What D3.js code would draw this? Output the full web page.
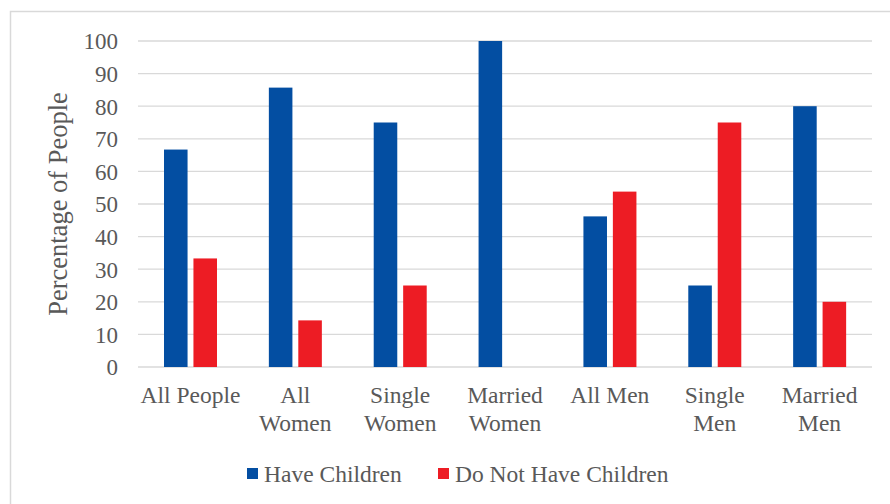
<!DOCTYPE html>
<html><head><meta charset="utf-8">
<script src="https://cdn.jsdelivr.net/npm/d3@7"></script>
<style>body{margin:0;background:#fff}svg{display:block}</style>
</head><body>
<svg id="c" width="890" height="504"></svg>
<script>
const categories = [["All People"],["All","Women"],["Single","Women"],["Married","Women"],["All Men"],["Single","Men"],["Married","Men"]];
const series = ["Have Children","Do Not Have Children"];
const haveChildren = [66.7, 85.7, 75, 100, 46.2, 25, 80];
const noChildren = [33.3, 14.3, 25, 0, 53.8, 75, 20];
const yTicks = [0,10,20,30,40,50,60,70,80,90,100];
const colors = ["#034EA2","#ED1C24"];

const svg = d3.select("#c");
const font = "Liberation Serif";
const textColor = "#595959";
svg.append("rect").attr("x",10.5).attr("y",11.5).attr("width",900).attr("height",520)
  .attr("fill","none").attr("stroke","#d9d9d9").attr("stroke-width",1.5);

const x0 = 138, x1 = 872, yTop = 41, yBot = 367;
const catNames = categories.map(c=>c.join(" "));
const x = d3.scaleBand().domain(catNames).range([x0,x1]).paddingInner(0).paddingOuter(0);
const xs = d3.scaleBand().domain(series).range([26,79]).paddingInner(0.2);
const y = d3.scaleLinear().domain([0,100]).range([yBot,yTop]);

svg.append("g").selectAll("line").data(yTicks).join("line")
  .attr("x1",x0).attr("x2",x1).attr("y1",d=>y(d)).attr("y2",d=>y(d))
  .attr("stroke","#d9d9d9").attr("stroke-width",1.3);

const yAxis = d3.axisLeft(y).tickValues(yTicks).tickSize(0).tickPadding(0);
const gy = svg.append("g").attr("transform","translate(118,0)").call(yAxis);
gy.select(".domain").remove();
gy.attr("font-family",null).attr("font-size",null);
gy.selectAll("text").style("font-family",font).style("font-size","23px").attr("fill",textColor).attr("dy","0.34em");

const data = catNames.map((c,i)=>({c, vals:[haveChildren[i], noChildren[i]]}));
const groups = svg.append("g").selectAll("g").data(data).join("g")
  .attr("transform",d=>`translate(${x(d.c)},0)`);
groups.selectAll("rect").data(d=>d.vals.map((v,j)=>({s:series[j],v,j}))).join("rect")
  .attr("x",d=>xs(d.s)).attr("width",xs.bandwidth())
  .attr("y",d=>y(d.v)).attr("height",d=>yBot-y(d.v))
  .attr("fill",d=>colors[d.j]);

const xl = svg.append("g").selectAll("text").data(categories).join("text")
  .attr("x",(d,i)=>x(catNames[i])+x.bandwidth()/2).attr("y",403)
  .attr("text-anchor","middle").style("font-family",font).style("font-size","23.5px").attr("fill",textColor);
xl.selectAll("tspan").data(d=>d).join("tspan")
  .attr("x",function(){return this.parentNode.getAttribute("x");})
  .attr("dy",(d,i)=>i===0?0:28).text(d=>d);

svg.append("text").attr("transform","translate(67,204) rotate(-90)")
  .attr("text-anchor","middle").style("font-family",font).style("font-size","26.5px").attr("fill",textColor)
  .text("Percentage of People");

const legX = [247, 438];
const lg = svg.append("g").selectAll("g").data(series).join("g")
  .attr("transform",(d,i)=>`translate(${legX[i]},468)`);
lg.append("rect").attr("width",11).attr("height",11).attr("fill",(d,i)=>colors[i]);
lg.append("text").attr("x",17).attr("y",13.5).style("font-family",font).style("font-size","23.5px").attr("fill",textColor).text(d=>d);
</script>
</body></html>
